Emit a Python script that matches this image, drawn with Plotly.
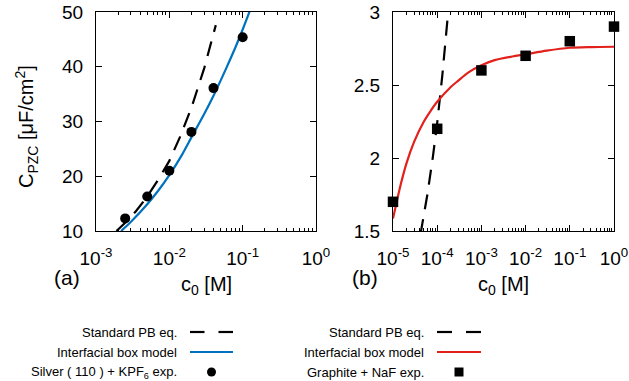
import plotly.graph_objects as go

W, H = 629, 381

# ---------------- data: panel (a) ----------------
a_exp_c = [2.5e-3, 5e-3, 1e-2, 2e-2, 4e-2, 1e-1]
a_exp_C = [12.3, 16.3, 21.0, 28.1, 36.1, 45.4]
a_pb_c = [1.9e-3, 2.5e-3, 3.5e-3, 5e-3, 7e-3, 1e-2, 1.4e-2, 2e-2, 3e-2, 4.3e-2]
a_pb_C = [10.0, 11.5, 13.6, 16.3, 19.3, 22.8, 27.2, 32.5, 39.8, 47.6]
a_box_c = [2.2e-3, 3e-3, 5e-3, 7e-3, 1e-2, 1.5e-2, 2e-2, 3e-2, 4e-2, 6e-2, 8e-2, 1e-1, 1.3e-1]
a_box_C = [10.0, 11.7, 14.9, 17.3, 20.2, 24.0, 27.1, 31.4, 34.7, 39.8, 43.6, 46.8, 50.8]

# ---------------- data: panel (b) ----------------
b_exp_c = [1e-5, 1e-4, 1e-3, 1e-2, 1e-1, 1e0]
b_exp_C = [1.7, 2.2, 2.6, 2.7, 2.8, 2.9]
b_pb_c = [4.2e-5, 6e-5, 8e-5, 1e-4, 1.3e-4, 1.6e-4, 1.9e-4]
b_pb_C = [1.48, 1.75, 2.01, 2.24, 2.56, 2.84, 3.1]
b_box_c = [1e-5, 1.5e-5, 2e-5, 3e-5, 5e-5, 7e-5, 1e-4, 2e-4, 3e-4, 5e-4,
           1e-3, 2e-3, 5e-3, 1e-2, 3e-2, 1e-1, 3e-1, 1e0]
b_box_C = [1.585, 1.82, 1.96, 2.11, 2.25, 2.32, 2.385, 2.485, 2.53, 2.585,
           2.635, 2.67, 2.695, 2.71, 2.735, 2.755, 2.76, 2.762]

# ticks
a_xtick_vals = [1e-3, 1e-2, 1e-1, 1e0]
a_xtick_text = ["10<sup>-3</sup>", "10<sup>-2</sup>", "10<sup>-1</sup>", "10<sup>0</sup>"]
b_xtick_vals = [1e-5, 1e-4, 1e-3, 1e-2, 1e-1, 1e0]
b_xtick_text = ["10<sup>-5</sup>", "10<sup>-4</sup>", "10<sup>-3</sup>",
                "10<sup>-2</sup>", "10<sup>-1</sup>", "10<sup>0</sup>"]
a_ytick_vals = [10, 20, 30, 40, 50]
b_ytick_vals = [1.5, 2, 2.5, 3]
b_ytick_text = ["1.5", "2", "2.5", "3"]

legend_a = ["Standard PB eq.", "Interfacial box model", "Silver ( 110 ) + KPF<sub>6</sub> exp."]
legend_b = ["Standard PB eq.", "Interfacial box model", "Graphite + NaF exp."]

BLUE = "#0072bd"
RED = "#e3211c"
FONT = "Liberation Sans"
DASH = "15px,10px"


def px(x):
    return x / W


def py(y):
    return 1 - y / H


fig = go.Figure()

fig.add_trace(go.Scatter(x=a_pb_c, y=a_pb_C, mode="lines", xaxis="x", yaxis="y",
                         line=dict(color="black", width=2.2, dash=DASH), showlegend=False))
fig.add_trace(go.Scatter(x=a_box_c, y=a_box_C, mode="lines", xaxis="x", yaxis="y",
                         line=dict(color=BLUE, width=2.2, shape="spline", smoothing=0.8),
                         showlegend=False))
fig.add_trace(go.Scatter(x=a_exp_c, y=a_exp_C, mode="markers", xaxis="x", yaxis="y",
                         marker=dict(color="black", size=10, symbol="circle"),
                         cliponaxis=False, showlegend=False))

fig.add_trace(go.Scatter(x=b_pb_c, y=b_pb_C, mode="lines", xaxis="x2", yaxis="y2",
                         line=dict(color="black", width=2.2, dash=DASH), showlegend=False))
fig.add_trace(go.Scatter(x=b_box_c, y=b_box_C, mode="lines", xaxis="x2", yaxis="y2",
                         line=dict(color=RED, width=2.2, shape="spline", smoothing=0.8),
                         showlegend=False))
fig.add_trace(go.Scatter(x=b_exp_c, y=b_exp_C, mode="markers", xaxis="x2", yaxis="y2",
                         marker=dict(color="black", size=10.5, symbol="square"),
                         cliponaxis=False, showlegend=False))


def minor_vals(lo, hi):
    vals = []
    for e in range(lo, hi):
        for m in range(2, 10):
            vals.append(m * 10 ** e)
    return vals


tickfont = dict(family=FONT, size=19, color="black")
common_x = dict(type="log", showgrid=False, zeroline=False, showline=True, linecolor="black",
                linewidth=1, mirror="allticks", ticks="inside", ticklen=6, tickwidth=1,
                tickcolor="black", tickfont=tickfont, ticklabelstandoff=10, automargin=False)
common_y = dict(showgrid=False, zeroline=False, showline=True, linecolor="black",
                linewidth=1, mirror="allticks", ticks="inside", ticklen=6, tickwidth=1,
                tickcolor="black", tickfont=tickfont, ticklabelstandoff=8, automargin=False)

fig.update_layout(
    width=W, height=H,
    margin=dict(l=0, r=0, t=0, b=0),
    paper_bgcolor="white", plot_bgcolor="white",
    font=dict(family=FONT, color="black"),
    xaxis=dict(domain=[px(96), px(316)], range=[-3, 0], anchor="y",
               tickmode="array", tickvals=a_xtick_vals, ticktext=a_xtick_text,
               minor=dict(ticks="inside", ticklen=3, tickcolor="black",
                          tickmode="array", tickvals=minor_vals(-3, 0)),
               **common_x),
    yaxis=dict(domain=[py(231), py(12)], range=[10, 50], anchor="x",
               tickmode="array", tickvals=a_ytick_vals, **common_y),
    xaxis2=dict(domain=[px(393), px(614)], range=[-5, 0], anchor="y2",
                tickmode="array", tickvals=b_xtick_vals, ticktext=b_xtick_text,
                minor=dict(ticks="inside", ticklen=3, tickcolor="black",
                           tickmode="array", tickvals=minor_vals(-5, 0)),
                **common_x),
    yaxis2=dict(domain=[py(231), py(12)], range=[1.5, 3], anchor="x2",
                tickmode="array", tickvals=b_ytick_vals, ticktext=b_ytick_text, **common_y),
)

ann = []
titlefont = dict(family=FONT, size=20, color="black")
# axis titles
ann.append(dict(x=px(27), y=py(127), xref="paper", yref="paper", textangle=-90,
                text="C<sub>PZC</sub> [μF/cm<sup>2</sup>]", showarrow=False, font=titlefont,
                xanchor="center", yanchor="middle"))
ann.append(dict(x=px(206), y=py(285), xref="paper", yref="paper",
                text="c<sub>0</sub> [M]", showarrow=False, font=titlefont,
                xanchor="center", yanchor="middle"))
ann.append(dict(x=px(503), y=py(285), xref="paper", yref="paper",
                text="c<sub>0</sub> [M]", showarrow=False, font=titlefont,
                xanchor="center", yanchor="middle"))
# panel labels
ann.append(dict(x=px(52), y=py(277), xref="paper", yref="paper", text="(a)", showarrow=False,
                font=dict(family=FONT, size=21, color="black"), xanchor="left", yanchor="middle"))
ann.append(dict(x=px(350), y=py(277), xref="paper", yref="paper", text="(b)", showarrow=False,
                font=dict(family=FONT, size=21, color="black"), xanchor="left", yanchor="middle"))

legfont = dict(family=FONT, size=13, color="black")
rows = [332, 352, 372]
shapes = []
for (texts, tx, sx0, sx1, color, sym) in [
        (legend_a, 179, 190, 233, BLUE, "circle"),
        (legend_b, 426, 437, 481, RED, "square")]:
    for t, r in zip(texts, rows):
        ann.append(dict(x=px(tx), y=py(r), xref="paper", yref="paper", text=t, showarrow=False,
                        font=legfont, xanchor="right", yanchor="middle"))
    # dashed sample (two dashes)
    half = (sx1 - sx0) / 2
    shapes.append(dict(type="line", xref="paper", yref="paper", x0=px(sx0), x1=px(sx0 + half - 7),
                       y0=py(rows[0]), y1=py(rows[0]), line=dict(color="black", width=2.2)))
    shapes.append(dict(type="line", xref="paper", yref="paper", x0=px(sx1 - half + 7), x1=px(sx1),
                       y0=py(rows[0]), y1=py(rows[0]), line=dict(color="black", width=2.2)))
    # solid sample
    shapes.append(dict(type="line", xref="paper", yref="paper", x0=px(sx0), x1=px(sx1),
                       y0=py(rows[1]), y1=py(rows[1]), line=dict(color=color, width=2.2)))
    cx = (sx0 + sx1) / 2
    shapes.append(dict(type="circle" if sym == "circle" else "rect", xref="paper", yref="paper",
                       x0=px(cx - 4.5), x1=px(cx + 4.5), y0=py(rows[2] - 4.5), y1=py(rows[2] + 4.5),
                       fillcolor="black", line=dict(color="black", width=0)))

fig.update_layout(annotations=ann, shapes=shapes)

fig.write_html("out.html")
